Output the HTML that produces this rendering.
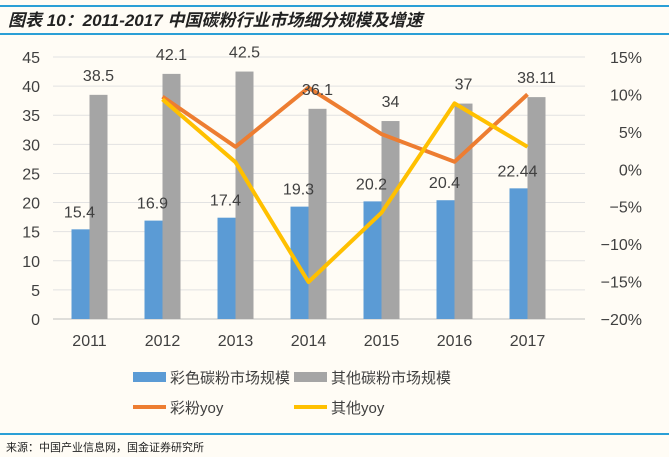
<!DOCTYPE html>
<html><head><meta charset="utf-8"><style>
body{margin:0;background:#fffcf5;}
svg{display:block;font-family:"Liberation Sans","Noto Sans CJK SC",sans-serif;}
</style></head><body>
<svg id="c" width="669" height="457">
<rect width="669" height="457" fill="#fffcf5"/>
<line x1="0" y1="6" x2="669" y2="6" stroke="#2a9fd6" stroke-width="2"/>
<text x="8" y="26" font-size="17" font-weight="bold" font-style="italic" fill="#222">图表 10：2011-2017 中国碳粉行业市场细分规模及增速</text>
<line x1="0" y1="34" x2="669" y2="34" stroke="#2a9fd6" stroke-width="2"/>
<line x1="0" y1="434" x2="669" y2="434" stroke="#2a9fd6" stroke-width="2"/>
<text x="6" y="451" font-size="11" fill="#222">来源：中国产业信息网，国金证券研究所</text>
<g id="grid"></g><g id="bars"></g><g id="lines"></g><g id="labels"></g>
<g>
<rect x="133" y="372" width="33" height="10" fill="#5b9bd5"/>
<text x="170" y="383" font-size="15" fill="#404040">彩色碳粉市场规模</text>
<rect x="294" y="372" width="33" height="10" fill="#a5a5a5"/>
<text x="331" y="383" font-size="15" fill="#404040">其他碳粉市场规模</text>
<line x1="133" y1="407" x2="166" y2="407" stroke="#ed7d31" stroke-width="4"/>
<text x="170" y="413" font-size="15" fill="#404040">彩粉yoy</text>
<line x1="294" y1="407" x2="327" y2="407" stroke="#ffc000" stroke-width="4"/>
<text x="331" y="413" font-size="15" fill="#404040">其他yoy</text>
</g>
</svg>
<script>
const categories=["2011","2012","2013","2014","2015","2016","2017"];
const colorSize=[15.4,16.9,17.4,19.3,20.2,20.4,22.44];
const otherSize=[38.5,42.1,42.5,36.1,34,37,38.11];
const colorLabels=["15.4","16.9","17.4","19.3","20.2","20.4","22.44"];
const otherLabels=["38.5","42.1","42.5","36.1","34","37","38.11"];
const colorYoy=[null,9.7,3.0,10.9,4.7,1.0,10.0];
const otherYoy=[null,9.35,0.95,-15.06,-5.8,8.8,3.0];
const leftTicks=[0,5,10,15,20,25,30,35,40,45];
const rightTicks=[-20,-15,-10,-5,0,5,10,15];
const NS="http://www.w3.org/2000/svg";
const X0=53,X1=564,GX1=585,Y0=319,Y1=57;
const step=(X1-X0)/categories.length;
const xc=i=>X0+step*(i+0.5);
const yl=v=>Y0-(v/45)*(Y0-Y1);
const yr=v=>Y0-((v+20)/35)*(Y0-Y1);
function mk(tag,attrs,parent,text){const e=document.createElementNS(NS,tag);for(const k in attrs)e.setAttribute(k,attrs[k]);if(text!==undefined)e.textContent=text;document.getElementById(parent).appendChild(e);return e;}
leftTicks.forEach(t=>{
 const y=yl(t);
 const g=mk('line',{x1:X0,x2:GX1,y1:y,y2:y,stroke:t===0?'#bfbfbf':'#e2e2e2','stroke-width':1},'grid');
 
 
 const l=mk('text',{x:40,y:y+6,'text-anchor':'end','font-size':16,fill:'#404040'},'grid',String(t));
 
 
});
rightTicks.forEach(t=>{
 const l=mk('text',{x:642,y:yr(t)+6,'text-anchor':'end','font-size':16,fill:'#404040'},'grid',(t<0?'−':'')+Math.abs(t)+'%');
 
 
});
categories.forEach((c,i)=>{
 const cx=xc(i);
 const l=mk('text',{x:cx,y:346,'text-anchor':'middle','font-size':16,fill:'#404040'},'grid',c);
 
 
 const b1=mk('rect',{x:cx-18,y:yl(colorSize[i]),width:18,height:Y0-yl(colorSize[i]),fill:'#5b9bd5'},'bars');
 
 
 const b2=mk('rect',{x:cx,y:yl(otherSize[i]),width:18,height:Y0-yl(otherSize[i]),fill:'#a5a5a5'},'bars');
 
 
 const t1=mk('text',{x:cx-10,y:yl(colorSize[i])-12,'text-anchor':'middle','font-size':16,fill:'#404040'},'labels',colorLabels[i]);
 
 
 const t2=mk('text',{x:cx+9,y:yl(otherSize[i])-14,'text-anchor':'middle','font-size':16,fill:'#404040'},'labels',otherLabels[i]);
 
 
});
function line(arr,color,name){
 const pts=[];arr.forEach((v,i)=>{if(v!==null)pts.push(xc(i).toFixed(1)+','+yr(v).toFixed(1));});
 const p=mk('polyline',{points:pts.join(' '),fill:'none',stroke:color,'stroke-width':4,'stroke-linejoin':'round'},'lines');
 
 
}
line(colorYoy,'#ed7d31','line-color-yoy');
line(otherYoy,'#ffc000','line-other-yoy');
</script>
</body></html>
